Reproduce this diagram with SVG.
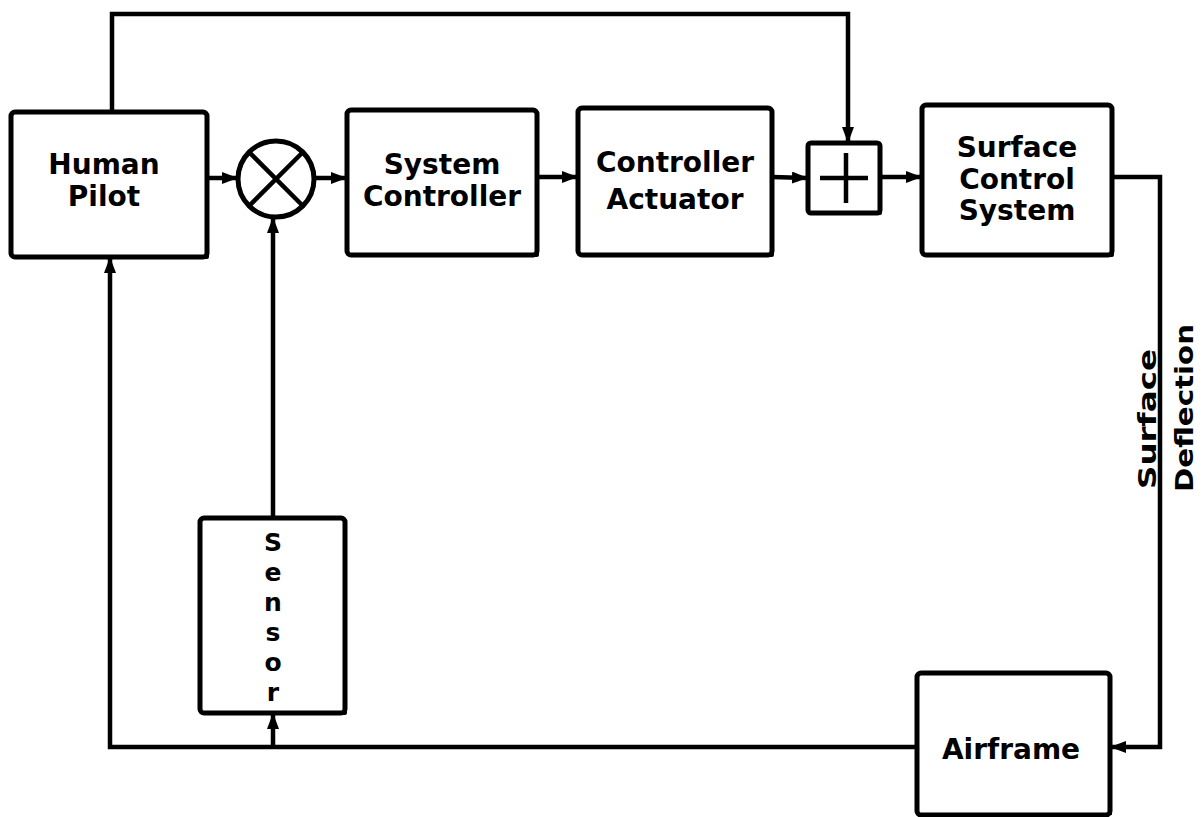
<svg xmlns="http://www.w3.org/2000/svg" width="1203" height="817" viewBox="0 0 1203 817">
<style>
  .box { fill: #fff; stroke: #000; stroke-width: 5; }
  .shadow { fill: none; stroke: #000; stroke-width: 4; stroke-linejoin: round; }
  .line { fill: none; stroke: #000; stroke-width: 4.5; stroke-linejoin: miter; }
  .lbl { font-family: "DejaVu Sans", "Liberation Sans", sans-serif; font-weight: bold; font-size: 28px; fill: #000; text-anchor: middle; }
  .slbl { font-family: "DejaVu Sans", "Liberation Sans", sans-serif; font-weight: bold; font-size: 25px; fill: #000; text-anchor: middle; }
  .vlbl { font-family: "DejaVu Sans", "Liberation Sans", sans-serif; font-weight: bold; font-size: 25px; fill: #000; }
</style>
<defs>
  <marker id="arrow" viewBox="0 0 16 12" refX="15" refY="6" markerWidth="16" markerHeight="12" markerUnits="userSpaceOnUse" orient="auto">
    <path d="M0,0 L16,6 L0,12 Z" fill="#000"/>
  </marker>
</defs>
<rect width="1203" height="817" fill="#fff"/>

<g id="connectors">
  <path class="line" d="M207,178 L237,178" marker-end="url(#arrow)"/>
  <path class="line" d="M314,178 L346,178" marker-end="url(#arrow)"/>
  <path class="line" d="M537,177 L577,177" marker-end="url(#arrow)"/>
  <path class="line" d="M772,177 L807,178" marker-end="url(#arrow)"/>
  <path class="line" d="M880,177 L921,177" marker-end="url(#arrow)"/>
  <path class="line" d="M112,112 L112,14 L848,14 L848,142" marker-end="url(#arrow)"/>
  <path class="line" d="M1112,177 L1160,177 L1160,747 L1111,747" marker-end="url(#arrow)"/>
  <path class="line" d="M917,747 L110,747 L110,258" marker-end="url(#arrow)"/>
  <path class="line" d="M273,747 L273,714" marker-end="url(#arrow)"/>
  <path class="line" d="M273,518 L273,218" marker-end="url(#arrow)"/>
</g>

<g id="human-pilot">
  <rect class="box" x="11" y="112" width="196" height="145" rx="4"/>
  <path class="shadow" d="M207,114 L207,257 L13,257"/>
  <text class="lbl" x="104" y="174">Human</text>
  <text class="lbl" x="104" y="206">Pilot</text>
</g>

<g id="summing-junction">
  <circle cx="276" cy="179" r="38" fill="#fff" stroke="#000" stroke-width="5"/>
  <path class="line" d="M249,152 L303,206 M303,152 L249,206"/>
</g>

<g id="system-controller">
  <rect class="box" x="347" y="110" width="190" height="145" rx="4"/>
  <path class="shadow" d="M537,112 L537,255 L349,255"/>
  <text class="lbl" x="442" y="174">System</text>
  <text class="lbl" x="442" y="206">Controller</text>
</g>

<g id="controller-actuator">
  <rect class="box" x="578" y="108" width="194" height="147" rx="4"/>
  <path class="shadow" d="M772,110 L772,255 L580,255"/>
  <text class="lbl" x="675" y="172">Controller</text>
  <text class="lbl" x="675" y="209">Actuator</text>
</g>

<g id="summing-plus">
  <rect class="box" x="808" y="143" width="72" height="70" rx="3"/>
  <path class="shadow" d="M880,145 L880,213 L810,213"/>
  <path class="line" d="M820,178 L868,178 M846,153 L846,203"/>
</g>

<g id="surface-control-system">
  <rect class="box" x="922" y="105" width="190" height="150" rx="4"/>
  <path class="shadow" d="M1112,107 L1112,255 L924,255"/>
  <text class="lbl" x="1017" y="157">Surface</text>
  <text class="lbl" x="1017" y="189">Control</text>
  <text class="lbl" x="1017" y="220">System</text>
</g>

<g id="sensor">
  <rect class="box" x="200" y="518" width="145" height="195" rx="4"/>
  <path class="shadow" d="M345,520 L345,713 L202,713"/>
  <text class="slbl" x="273" y="551">S</text>
  <text class="slbl" x="273" y="581">e</text>
  <text class="slbl" x="273" y="611">n</text>
  <text class="slbl" x="273" y="641">s</text>
  <text class="slbl" x="273" y="671">o</text>
  <text class="slbl" x="273" y="701">r</text>
</g>

<g id="airframe">
  <rect class="box" x="917" y="673" width="193" height="142" rx="4"/>
  <path class="shadow" d="M1110,675 L1110,815"/>
  <text class="lbl" x="1011" y="759" font-size="31">Airframe</text>
</g>

<g id="surface-deflection-label">
  <text class="vlbl" transform="translate(1156,489) rotate(-90)" textLength="140" lengthAdjust="spacingAndGlyphs">Surface</text>
  <text class="vlbl" transform="translate(1193,492) rotate(-90)" textLength="168" lengthAdjust="spacingAndGlyphs">Deflection</text>
</g>
</svg>
